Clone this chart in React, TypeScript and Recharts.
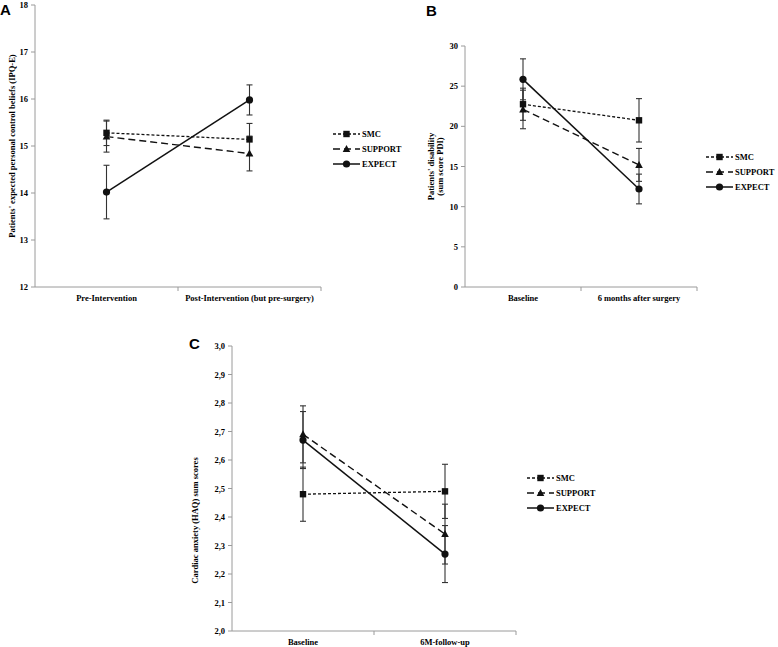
import React from 'react';
import { LineChart, Line, XAxis, YAxis, ErrorBar } from 'recharts';

// ---------- DATA ----------
const catsA = ['Pre-Intervention', 'Post-Intervention (but pre-surgery)'];
const smcA = [15.28, 15.14];
const smcAErr = [0.27, 0.34];
const supportA = [15.2, 14.84];
const supportAErr = [0.33, 0.37];
const expectA = [14.02, 15.98];
const expectAErr = [0.57, 0.32];
const yTicksA = [12, 13, 14, 15, 16, 17, 18];

const catsB = ['Baseline', '6 months after surgery'];
const smcB = [22.75, 20.75];
const smcBErr = [2.0, 2.7];
const supportB = [22.1, 15.2];
const supportBErr = [2.4, 2.05];
const expectB = [25.85, 12.2];
const expectBErr = [2.55, 1.85];
const yTicksB = [0, 5, 10, 15, 20, 25, 30];

const catsC = ['Baseline', '6M-follow-up'];
const smcC = [2.48, 2.49];
const smcCErr = [0.095, 0.095];
const supportC = [2.69, 2.34];
const supportCErr = [0.1, 0.105];
const expectC = [2.67, 2.27];
const expectCErr = [0.1, 0.1];
const yTicksC = [2.0, 2.1, 2.2, 2.3, 2.4, 2.5, 2.6, 2.7, 2.8, 2.9, 3.0];

const seriesNames = ['SMC', 'SUPPORT', 'EXPECT'];

// ---------- helpers ----------
function buildRows(cats: string[], s: number[], se: number[], u: number[], ue: number[], e: number[], ee: number[]) {
  return cats.map((c, i) => ({
    x: i + 0.5,
    cat: c,
    smc: s[i], smcErr: se[i],
    support: u[i], supportErr: ue[i],
    expect: e[i], expectErr: ee[i],
  }));
}

const dataA = buildRows(catsA, smcA, smcAErr, supportA, supportAErr, expectA, expectAErr);
const dataB = buildRows(catsB, smcB, smcBErr, supportB, supportBErr, expectB, expectBErr);
const dataC = buildRows(catsC, smcC, smcCErr, supportC, supportCErr, expectC, expectCErr);

const AXIS = '#9a9a9a';
const INK = '#111';
const FONT = 'Liberation Serif';
const TXT: React.CSSProperties = { fontFamily: FONT, fontWeight: 700 };

const SquareDot = (p: any) => {
  const { cx, cy } = p;
  if (cx == null || cy == null) return <g />;
  return <rect x={cx - 3.2} y={cy - 3.2} width={6.4} height={6.4} fill={INK} />;
};
const TriDot = (p: any) => {
  const { cx, cy } = p;
  if (cx == null || cy == null) return <g />;
  return <polygon points={`${cx},${cy - 4} ${cx - 3.8},${cy + 3} ${cx + 3.8},${cy + 3}`} fill={INK} />;
};
const CircDot = (p: any) => {
  const { cx, cy } = p;
  if (cx == null || cy == null) return <g />;
  return <circle cx={cx} cy={cy} r={3.6} fill={INK} />;
};

const styles = [
  { key: 'smc', dash: '3 2', width: 1.3, Dot: SquareDot },
  { key: 'support', dash: '7 4', width: 1.4, Dot: TriDot },
  { key: 'expect', dash: undefined, width: 1.5, Dot: CircDot },
];

const TICK_MARGIN = 8;
function makeXTick(cats: string[]) {
  return (props: any) => {
    const { x, y, payload } = props;
    const v = payload.value;
    if (Number.isInteger(v)) {
      if (v === 0) return <g />;
      const ay = y - TICK_MARGIN;
      return <line x1={x} x2={x} y1={ay} y2={ay + 4} stroke={AXIS} strokeWidth={1} />;
    }
    return (
      <text x={x} y={y} dy="0.71em" textAnchor="middle" fontSize={8.5} fill="#000" style={TXT}>
        {cats[Math.floor(v)]}
      </text>
    );
  };
}

function YTick(props: any) {
  const { x, y, payload, fmt } = props;
  const v = payload.value;
  return (
    <text x={x} y={y} dy="0.355em" textAnchor="end" fontSize={8.5} fill="#000" style={TXT}>
      {fmt ? fmt(v) : String(v)}
    </text>
  );
}

function Series() {
  return styles.map((s) => (
    <Line
      key={s.key}
      type="linear"
      dataKey={s.key}
      stroke={INK}
      strokeWidth={s.width}
      strokeDasharray={s.dash}
      dot={s.Dot}
      activeDot={false}
      isAnimationActive={false}
    >
      <ErrorBar dataKey={`${s.key}Err`} width={3} stroke="#333" strokeWidth={1.1} direction="y" isAnimationActive={false} />
    </Line>
  ));
}

function Panel(props: {
  data: any[]; cats: string[]; yTicks: number[]; domain: [number, number];
  width: number; height: number; margin: any; yWidth: number;
  fmt?: (v: number) => string; label: (vb: any) => React.ReactNode;
}) {
  const { data, cats, yTicks, domain, width, height, margin, yWidth, fmt, label } = props;
  const xTicks: number[] = [];
  for (let i = 0; i <= cats.length * 2; i++) xTicks.push(i / 2);
  return (
    <LineChart width={width} height={height} data={data} margin={margin}>
      <XAxis
        dataKey="x"
        type="number"
        domain={[0, cats.length]}
        ticks={xTicks}
        interval={0}
        tickLine={false}
        tickSize={0}
        tickMargin={TICK_MARGIN}
        axisLine={{ stroke: AXIS }}
        tick={makeXTick(cats)}
        height={30}
      />
      <YAxis
        type="number"
        domain={domain}
        ticks={yTicks}
        interval={0}
        width={yWidth}
        tickSize={4}
        tickMargin={3}
        axisLine={{ stroke: AXIS }}
        tickLine={{ stroke: AXIS }}
        tick={(tp: any) => <YTick {...tp} fmt={fmt} />}
        label={(lp: any) => label(lp.viewBox)}
      />
      {Series()}
    </LineChart>
  );
}

function LegendSvg({ left, top }: { left: number; top: number }) {
  return (
    <svg style={{ position: 'absolute', left, top }} width={80} height={46}>
      {styles.map((s, i) => {
        const y = 6 + i * 15;
        const D = s.Dot;
        return (
          <g key={s.key}>
            <line x1={1} x2={28} y1={y} y2={y} stroke={INK} strokeWidth={s.width} strokeDasharray={s.dash} />
            <D cx={14.5} cy={y} />
            <text x={30} y={y} dy="0.33em" fontSize={8.5} fill="#000" style={TXT}>
              {seriesNames[i]}
            </text>
          </g>
        );
      })}
    </svg>
  );
}

const rotLabel = (x: number, cy: number, text: string, size = 8.5) => (
  <text
    x={x}
    y={cy}
    transform={`rotate(-90 ${x} ${cy})`}
    textAnchor="middle"
    dominantBaseline="central"
    fontSize={size}
    fill="#000"
    style={TXT}
  >
    {text}
  </text>
);

const LETTER: React.CSSProperties = { fontFamily: 'Liberation Sans', fontWeight: 700 };

export default function App() {
  return (
    <div style={{ position: 'absolute', left: 0, top: 0, width: 778, height: 647, overflow: 'hidden', background: '#fff', fontFamily: FONT }}>
      {/* Panel A */}
      <div style={{ position: 'absolute', left: 0, top: 0 }}>
        <Panel
          data={dataA} cats={catsA} yTicks={yTicksA} domain={[12, 18]}
          width={330} height={317} margin={{ top: 5, right: 9, bottom: 0, left: 0 }} yWidth={35}
          label={(vb) => rotLabel(vb.x + 12, vb.y + vb.height / 2, "Patients' expected personal control beliefs (IPQ-E)")}
        />
      </div>
      {/* Panel B */}
      <div style={{ position: 'absolute', left: 410, top: 0 }}>
        <Panel
          data={dataB} cats={catsB} yTicks={yTicksB} domain={[0, 30]}
          width={300} height={317} margin={{ top: 46, right: 13, bottom: 0, left: 0 }} yWidth={55}
          label={(vb) => (
            <g>
              {rotLabel(vb.x + 21, vb.y + vb.height / 2, "Patients' disability")}
              {rotLabel(vb.x + 30, vb.y + vb.height / 2, '(sum score PDI)')}
            </g>
          )}
        />
      </div>
      {/* Panel C */}
      <div style={{ position: 'absolute', left: 180, top: 300 }}>
        <Panel
          data={dataC} cats={catsC} yTicks={yTicksC} domain={[2, 3]}
          width={350} height={361} margin={{ top: 46, right: 14, bottom: 0, left: 0 }} yWidth={52}
          fmt={(v: number) => v.toFixed(1).replace('.', ',')}
          label={(vb) => rotLabel(vb.x + 15, vb.y + vb.height / 2 + 32, 'Cardiac anxiety (HAQ) sum scores')}
        />
      </div>

      <LegendSvg left={332} top={128} />
      <LegendSvg left={705} top={151} />
      <LegendSvg left={526} top={472} />

      <svg style={{ position: 'absolute', left: 0, top: 0, pointerEvents: 'none' }} width={778} height={647}>
        <text x={0} y={15} fontSize={15} fill="#000" style={LETTER}>A</text>
        <text x={426} y={16} fontSize={15} fill="#000" style={LETTER}>B</text>
        <text x={189} y={349} fontSize={15} fill="#000" style={LETTER}>C</text>
      </svg>
    </div>
  );
}
